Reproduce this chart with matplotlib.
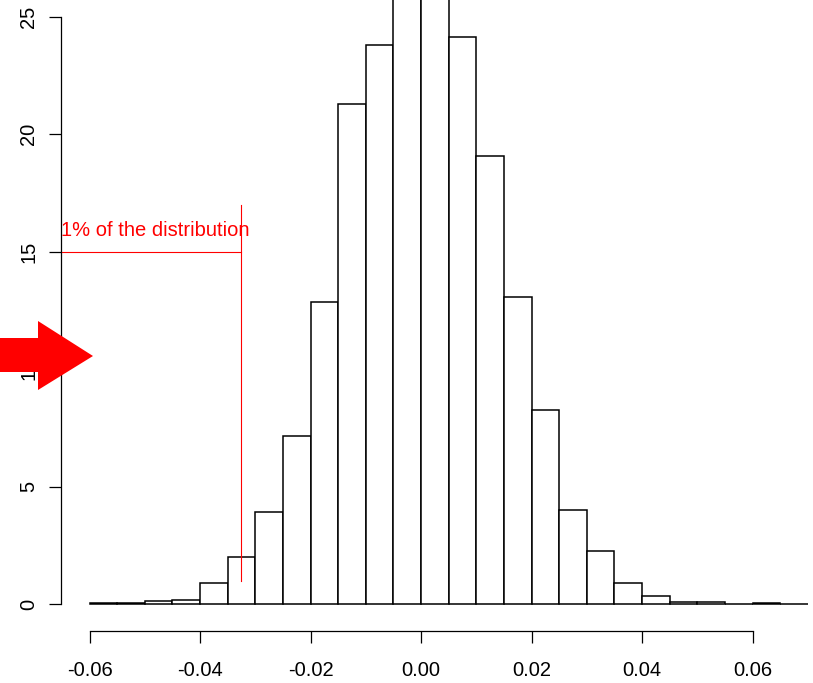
import matplotlib
matplotlib.use("Agg")
import matplotlib.pyplot as plt
from matplotlib.patches import Polygon
import numpy as np

plt.rcParams['font.family'] = ['Liberation Sans', 'DejaVu Sans']

# histogram (density) of returns, bin width 0.005
bin_edges = np.round(np.arange(-0.06, 0.0701, 0.005), 4)
density = [0.03, 0.05, 0.12, 0.17, 0.91, 2.01, 3.90, 7.15, 12.86, 21.3,
           23.8, 26.7, 28.7, 24.16, 19.08, 13.07, 8.26, 4.00, 2.27, 0.91,
           0.33, 0.07, 0.07, 0.02, 0.03, 0.02]
x_ticks = [-0.06, -0.04, -0.02, 0.00, 0.02, 0.04, 0.06]
x_labels = ["-0.06", "-0.04", "-0.02", "0.00", "0.02", "0.04", "0.06"]
y_ticks = [0, 5, 10, 15, 20, 25]

cutoff = -0.0326
note = "1% of the distribution"

W, H = 813, 683
fig = plt.figure(figsize=(W/100, H/100), dpi=100)
ax = fig.add_axes([61/W, (H-631)/H, (W-61)/W, 631/H])

ax.bar(bin_edges[:-1], density, width=0.005, align='edge',
       facecolor='white', edgecolor='black', linewidth=1.1)

ax.set_xlim(-0.06516, 0.07095)
ax.set_ylim(-1.15, 25.72)

for s in ['top', 'right']:
    ax.spines[s].set_visible(False)
ax.spines['left'].set_bounds(0, 25)
ax.spines['bottom'].set_bounds(-0.06, 0.06)
ax.spines['left'].set_linewidth(0.9)
ax.spines['bottom'].set_linewidth(0.9)

ax.set_xticks(x_ticks)
ax.set_xticklabels(x_labels)
ax.set_yticks(y_ticks)
ax.set_yticklabels([str(v) for v in y_ticks], rotation=90, va='center')
ax.tick_params(axis='both', length=8.5, width=0.9, labelsize=14.5)
ax.tick_params(axis='y', pad=8)
ax.tick_params(axis='x', pad=13)

# red marker of the 1% quantile
ax.plot([-0.07, cutoff], [15, 15], color='red', linewidth=0.8)
ax.plot([cutoff, cutoff], [1, 17], color='red', linewidth=0.8)
ax.text(-0.0311, 15.67, note, color='red', fontsize=14.5,
        ha='right', va='baseline', clip_on=True)

# big red arrow on the left edge
arrow_px = [(0, 338), (38, 338), (38, 321), (93, 356), (38, 390), (38, 372), (0, 372)]
arrow = Polygon([(x/W, 1 - y/H) for x, y in arrow_px], closed=True,
                transform=fig.transFigure, facecolor='red', edgecolor='none',
                zorder=10)
fig.patches.append(arrow)

fig.savefig("out.png", dpi=100)
